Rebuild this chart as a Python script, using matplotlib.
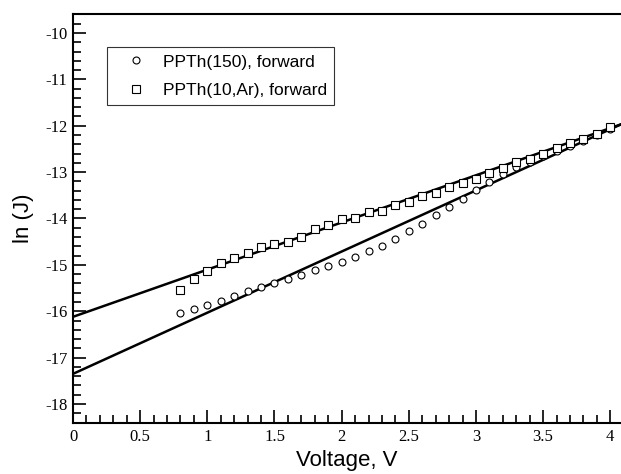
import numpy as np
import matplotlib
matplotlib.use("Agg")
import matplotlib.pyplot as plt
from matplotlib.ticker import MultipleLocator

plt.rcParams["axes.unicode_minus"] = False

# measured points, voltage 0.8 .. 4.0 V in 0.1 steps
volts = np.round(np.arange(8, 41) * 0.1, 1)
ppth150 = [-16.03, -15.95, -15.86, -15.77, -15.67, -15.57, -15.48, -15.39,
           -15.30, -15.21, -15.12, -15.03, -14.93, -14.82, -14.71, -14.59,
           -14.44, -14.27, -14.12, -13.92, -13.76, -13.58, -13.39, -13.22,
           -13.05, -12.90, -12.78, -12.66, -12.55, -12.44, -12.32, -12.20,
           -12.06]
ppth10ar = [-15.55, -15.31, -15.13, -14.96, -14.85, -14.75, -14.62, -14.54,
            -14.51, -14.39, -14.22, -14.15, -14.02, -13.99, -13.87, -13.83,
            -13.71, -13.65, -13.52, -13.45, -13.33, -13.24, -13.15, -13.01,
            -12.92, -12.79, -12.72, -12.60, -12.49, -12.38, -12.28, -12.17,
            -12.02]

# straight fit lines (end points)
fit_x = [0.0, 4.08]
fit_150 = [-17.35, -11.97]
fit_10ar = [-16.12, -11.97]

serif = "Liberation Serif"
sans = "Liberation Sans"

fig = plt.figure(figsize=(6.21, 4.74), dpi=100)
ax = fig.add_axes([0.1176, 0.1076, 0.8824, 0.8629])

ax.plot(fit_x, fit_150, color="black", lw=1.8, zorder=2)
ax.plot(fit_x, fit_10ar, color="black", lw=1.8, zorder=2)
ax.plot(volts, ppth150, "o", ms=5, mfc="white", mec="black", mew=0.8,
        ls="none", label="PPTh(150), forward", zorder=3)
ax.plot(volts, ppth10ar, "s", ms=5.5, mfc="white", mec="black", mew=0.8,
        ls="none", label="PPTh(10,Ar), forward", zorder=3)

ax.set_xlim(0, 4.08)
ax.set_ylim(-18.41, -9.59)

ax.xaxis.set_major_locator(MultipleLocator(0.5))
ax.xaxis.set_minor_locator(MultipleLocator(0.1))
ax.yaxis.set_major_locator(MultipleLocator(1))
ax.yaxis.set_minor_locator(MultipleLocator(0.2))
ax.set_xticks([0, 0.5, 1, 1.5, 2, 2.5, 3, 3.5, 4])
ax.set_xticklabels(["0", "0.5", "1", "1.5", "2", "2.5", "3", "3.5", "4"])

ax.tick_params(which="both", direction="in", top=False, right=False,
               width=1.2, labelsize=12)
ax.tick_params(which="major", length=9.5, pad=4)
ax.tick_params(which="minor", length=5.8)
for lab in ax.get_xticklabels() + ax.get_yticklabels():
    lab.set_fontfamily(serif)

for side in ["left", "bottom", "top"]:
    ax.spines[side].set_linewidth(1.5)
ax.spines["right"].set_visible(False)

ax.set_xlabel("Voltage, V", fontsize=16, fontfamily=sans, labelpad=4)
ax.set_ylabel("ln (J)", fontsize=16, fontfamily=sans, labelpad=8)

leg = ax.legend(loc="upper left", bbox_to_anchor=(0.062, 0.919),
                borderaxespad=0, fancybox=False, frameon=True,
                prop={"family": sans, "size": 12.5}, handletextpad=0.3,
                handlelength=2.5, borderpad=0.42, labelspacing=0.75)
leg.get_frame().set_edgecolor("black")
leg.get_frame().set_linewidth(0.8)

fig.savefig("out.png", dpi=100)
